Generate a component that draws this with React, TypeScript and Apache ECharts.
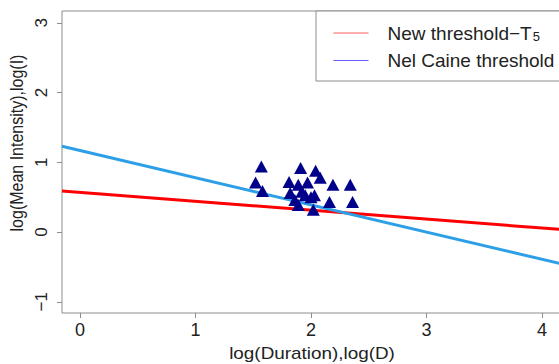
import React, { useEffect, useRef } from "react";
import * as echarts from "echarts";

// Axis ticks
const xTicks = [0, 1, 2, 3, 4];
const yTicks = [-1, 0, 1, 2, 3];
const xMin = -0.156;
const xMax = 4.234;
const yMin = -1.16;
const yMax = 3.17;

// Observed rainfall events: log(D), log(I)
const logDuration = [1.57, 1.52, 1.58, 1.81, 1.82, 1.89, 1.91, 1.92, 1.89, 1.97, 1.95, 2.04, 2.08, 2.03, 2.02, 2.19, 2.34, 2.16, 2.36, 2.0, 1.86];
const logIntensity = [0.94, 0.71, 0.59, 0.72, 0.56, 0.68, 0.92, 0.58, 0.39, 0.71, 0.53, 0.88, 0.78, 0.53, 0.32, 0.68, 0.68, 0.43, 0.43, 0.5, 0.46];

// Threshold lines: log(I) = intercept + slope * log(D)
const newThresholdIntercept = 0.57;
const newThresholdSlope = -0.128;
const nelCaineIntercept = 1.17;
const nelCaineSlope = -0.39;

const seriesNames = ["New threshold\u2212T5", "Nel Caine threshold"];

export default function App() {
  const ref = useRef<HTMLDivElement>(null);
  useEffect(() => {
    if (!ref.current) return;
    const chart = echarts.init(ref.current, null, { renderer: "svg" });
    const xEnds = [xMin, xMax];
    const newLine = xEnds.map((x) => [x, newThresholdIntercept + newThresholdSlope * x]);
    const ncLine = xEnds.map((x) => [x, nelCaineIntercept + nelCaineSlope * x]);
    const points = logDuration.map((d, i) => [d, logIntensity[i]]);
    const fmt = (v: number) => String(v).replace("-", "\u2212");
    chart.setOption({
      animation: false,
      backgroundColor: "#ffffff",
      textStyle: { fontFamily: "Liberation Sans, Arial, sans-serif" },
      grid: {
        left: 62,
        top: 11,
        bottom: 51,
        width: 507,
        outerBoundsMode: "none",
        containLabel: false,
        show: true,
        borderColor: "#8c8c8c",
        borderWidth: 1,
        backgroundColor: "transparent",
      },
      xAxis: {
        type: "value",
        min: xMin,
        max: xMax,
        axisLine: { show: false, onZero: false },
        splitLine: { show: false },
        axisTick: { show: true, length: 5, lineStyle: { color: "#8c8c8c" }, customValues: xTicks },
        axisLabel: {
          customValues: xTicks,
          color: "#222",
          fontSize: 18,
          margin: 8,
          formatter: fmt,
        },
      },
      yAxis: {
        type: "value",
        min: yMin,
        max: yMax,
        axisLine: { show: false, onZero: false },
        splitLine: { show: false },
        axisTick: { show: true, length: 5, lineStyle: { color: "#8c8c8c" }, customValues: yTicks },
        axisLabel: {
          customValues: yTicks,
          color: "#222",
          fontSize: 17,
          rotate: 90,
          margin: 12,
          formatter: fmt,
        },
      },
      legend: {
        orient: "vertical",
        left: 316,
        top: 11,
        padding: [12, 40, 11, 17],
        itemGap: 8,
        itemWidth: 35,
        itemHeight: 14,
        borderColor: "#8c8c8c",
        borderWidth: 1,
        borderRadius: 0,
        backgroundColor: "#ffffff",
        selectedMode: false,
        formatter: (name: string) =>
          name === seriesNames[0] ? "{a|New threshold\u2212T}{s|5}" : "{a|" + name + "}",
        textStyle: {
          color: "#222",
          fontSize: 19,
          rich: {
            a: { fontSize: 19, color: "#222", lineHeight: 20, padding: [0, 0, 0, 14] },
            s: { fontSize: 13, color: "#222", padding: [7, 0, 0, 1], lineHeight: 20 },
          },
        },
        data: [
          { name: seriesNames[0], lineStyle: { color: "#ff5c5c", width: 1 }, itemStyle: { opacity: 0 } },
          { name: seriesNames[1], lineStyle: { color: "#6060ff", width: 1 }, itemStyle: { opacity: 0 } },
        ],
      },
      graphic: [
        {
          type: "text",
          x: 312,
          y: 354,
          scaleX: 1.18,
          style: {
            text: "log(Duration),log(D)",
            fill: "#222",
            fontSize: 16,
            fontFamily: "Liberation Sans, Arial, sans-serif",
            align: "center",
            verticalAlign: "middle",
          },
        },
        {
          type: "text",
          x: 17,
          y: 143,
          rotation: Math.PI / 2,
          scaleY: 1.15,
          style: {
            text: "log(Mean Intensity),log(I)",
            fill: "#222",
            fontSize: 16,
            fontFamily: "Liberation Sans, Arial, sans-serif",
            align: "center",
            verticalAlign: "middle",
          },
        },
      ],
      series: [
        {
          name: "events",
          type: "scatter",
          data: points,
          symbol: "triangle",
          symbolSize: [13, 12],
          itemStyle: { color: "#00008b", opacity: 1 },
          z: 3,
        },
        {
          name: seriesNames[0],
          type: "line",
          data: newLine,
          showSymbol: false,
          symbol: "none",
          lineStyle: { color: "#ff0000", width: 3 },
          itemStyle: { color: "#ff0000" },
          z: 2,
        },
        {
          name: seriesNames[1],
          type: "line",
          data: ncLine,
          showSymbol: false,
          symbol: "none",
          lineStyle: { color: "#2c9fe6", width: 3 },
          itemStyle: { color: "#2c9fe6" },
          z: 2,
        },
      ],
    });
    return () => chart.dispose();
  }, []);
  return (
    <div
      ref={ref}
      style={{ position: "fixed", left: 0, top: 0, width: 559, height: 364 }}
    />
  );
}
